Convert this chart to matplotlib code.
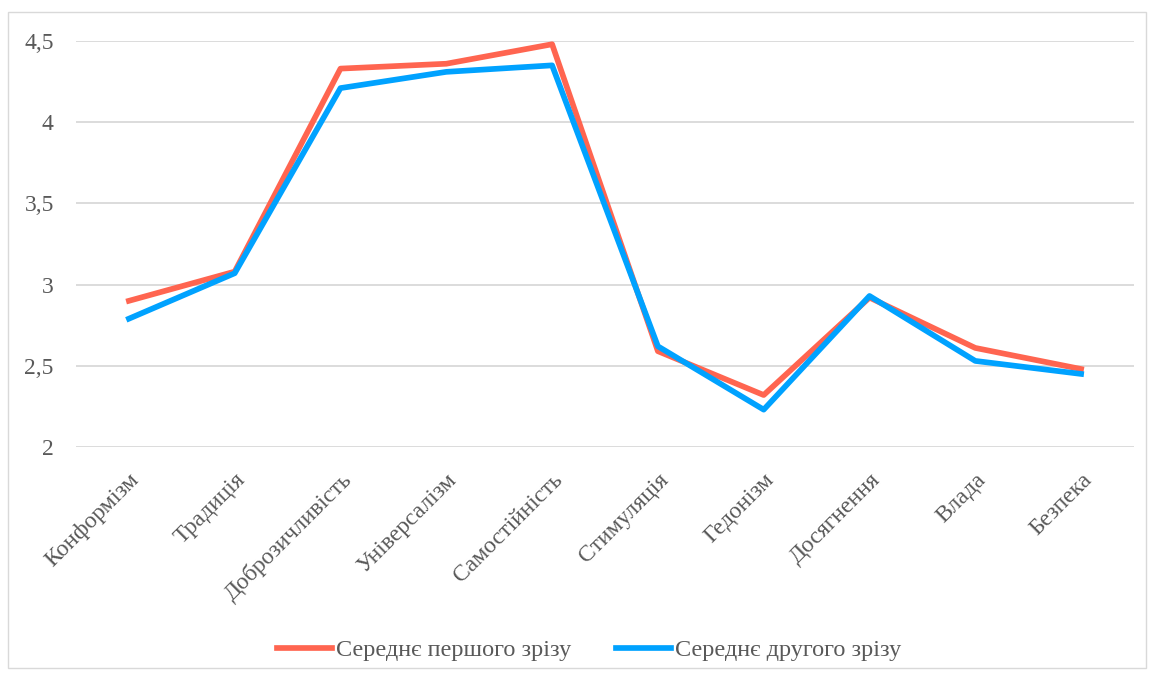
import matplotlib.pyplot as plt
from matplotlib.patches import Rectangle
from matplotlib.ticker import FuncFormatter

# values
categories = ['Конформізм', 'Традиція', 'Доброзичливість', 'Універсалізм', 'Самостійність',
              'Стимуляція', 'Гедонізм', 'Досягнення', 'Влада', 'Безпека']
first_cut = [2.90, 3.08, 4.33, 4.36, 4.48, 2.59, 2.32, 2.92, 2.61, 2.48]
second_cut = [2.79, 3.07, 4.21, 4.31, 4.35, 2.62, 2.23, 2.93, 2.53, 2.45]
series_names = ['Середнє першого зрізу', 'Середнє другого зрізу']

plt.rcParams['font.family'] = ['Liberation Serif', 'DejaVu Serif']
text_col = '#595959'

fig = plt.figure(figsize=(11.5, 6.78), dpi=100, facecolor='white')
# outer chart frame
fig.patches.append(Rectangle((8/1150, 10/678), 1138/1150, 656/678, transform=fig.transFigure,
                             fill=False, edgecolor='#d9d9d9', linewidth=1))

ax = fig.add_axes([76/1150, 1-447/678, 1058/1150, 406/678])
x = list(range(len(categories)))
ax.plot(x, first_cut, color='#FF6550', linewidth=4.1, label=series_names[0], solid_joinstyle='round')
ax.plot(x, second_cut, color='#00A2FF', linewidth=4.1, label=series_names[1], solid_joinstyle='round')

ax.set_xlim(-0.5, len(categories) - 0.5)
ax.set_ylim(2, 4.5)
ax.set_yticks([2, 2.5, 3, 3.5, 4, 4.5])
ax.yaxis.set_major_formatter(FuncFormatter(lambda v, p: ('%g' % v).replace('.', ',')))
ax.grid(axis='y', color='#d9d9d9', linewidth=1.3)
ax.set_axisbelow(True)
for s in ax.spines.values():
    s.set_visible(False)
ax.tick_params(axis='both', length=0, labelsize=17, labelcolor=text_col)
ax.tick_params(axis='y', pad=16)
ax.set_xticks(x)
ax.set_xticklabels(categories, rotation=45, ha='right', rotation_mode='anchor')
ax.tick_params(axis='x', pad=16)

ax.legend(loc='center', bbox_to_anchor=(589/1150, 1-650/678), bbox_transform=fig.transFigure,
          ncol=2, frameon=False, fontsize=17.5, labelcolor=text_col, handlelength=2.26,
          handletextpad=0.15, columnspacing=1.85)

fig.savefig('out.png', dpi=100, facecolor='white')
